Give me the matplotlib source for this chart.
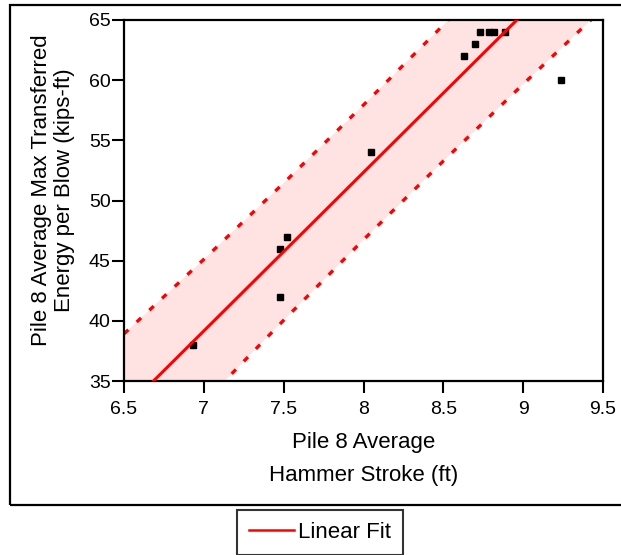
import matplotlib
matplotlib.use("Agg")
import matplotlib.pyplot as plt
from matplotlib.lines import Line2D
from matplotlib.patches import Rectangle
import numpy as np

plt.rcParams['font.family'] = ['Liberation Sans', 'DejaVu Sans']

# Observed data (Pile 8)
stroke_ft = [6.93, 7.48, 7.52, 7.48, 8.045, 8.63, 8.70, 8.73, 8.783, 8.818, 8.887, 9.236]
energy_kipsft = [38, 46, 47, 42, 54, 62, 63, 64, 64, 64, 64, 60]

# Linear fit
fit_slope = 13.18
fit_intercept = -53.10

# Prediction band
band_x = [6.5, 7.0, 7.5, 8.0, 8.5, 9.0, 9.5]
band_upper = [38.92, 45.11, 51.45, 57.94, 64.58, 71.37, 78.26]
band_lower = [26.22, 33.21, 40.05, 46.74, 53.28, 59.67, 65.96]

xticks = [6.5, 7, 7.5, 8, 8.5, 9, 9.5]
xtick_labels = ['6.5', '7', '7.5', '8', '8.5', '9', '9.5']
yticks = [35, 40, 45, 50, 55, 60, 65]

fig = plt.figure(figsize=(6.21, 5.55), dpi=100)
ax = fig.add_axes([124/621, 174/555, 479/621, 361/555])

red = '#ff0000'
ax.fill_between(band_x, band_lower, band_upper, color='#ffe2e2', lw=0, zorder=1)
ax.plot(band_x, band_upper, color=red, lw=2.4, ls=(0, (1.8, 3.4)), zorder=2)
ax.plot(band_x, band_lower, color=red, lw=2.4, ls=(0, (1.8, 3.4)), zorder=2)
ax.plot(stroke_ft, energy_kipsft, ls='none', marker='s', ms=5, color='black', zorder=3)
fx = np.array([6.5, 9.5])
ax.plot(fx, fit_slope * fx + fit_intercept, color=red, lw=2.2, zorder=4)

ax.set_xlim(6.5, 9.5)
ax.set_ylim(35, 65)
ax.set_xticks(xticks)
ax.set_xticklabels(xtick_labels)
ax.set_yticks(yticks)
ax.tick_params(direction='out', length=8.5, width=1.5, labelsize=14)
ax.tick_params(axis='x', pad=6)
ax.tick_params(axis='y', pad=1)
for s in ax.spines.values():
    s.set_linewidth(1.6)

ax.set_xlabel('Pile 8 Average\nHammer Stroke (ft)', fontsize=16, linespacing=1.72, labelpad=10)
ax.set_ylabel('Pile 8 Average Max Transferred\nEnergy per Blow (kips-ft)', fontsize=16, linespacing=1.1, labelpad=10)
ax.yaxis.label.set_y(0.528)

# outer frame
fig.patches.append(Rectangle((10/621, 50/555), 620/621, 500/555, transform=fig.transFigure,
                             fill=False, lw=1.6, edgecolor='black'))

handle = Line2D([], [], color=red, lw=1.8)
leg = fig.legend([handle], ['Linear Fit'], loc='center', bbox_to_anchor=(320/621, 22.5/555),
                 fontsize=16, frameon=True, fancybox=False, edgecolor='black',
                 handlelength=2.0, handletextpad=0.2, borderpad=0.55, borderaxespad=0)
leg.get_frame().set_linewidth(1.5)

fig.savefig('out.png', dpi=100)
